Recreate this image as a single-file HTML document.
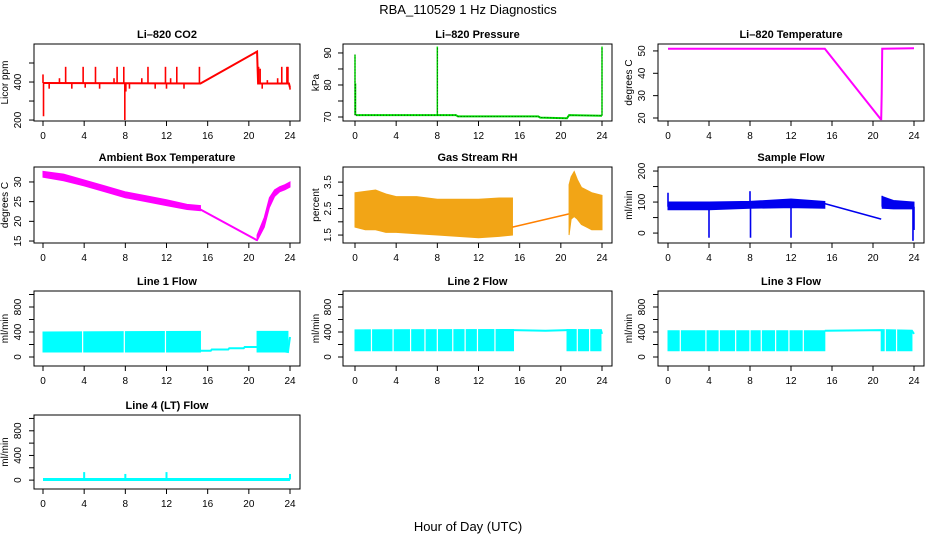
<!DOCTYPE html>
<html><head><meta charset="utf-8"><style>
html,body{margin:0;padding:0;background:#fff;}
svg{display:block;font-family:"Liberation Sans",Arial,sans-serif;}
</style></head><body>
<svg id="c" width="936" height="540" viewBox="0 0 936 540" xmlns="http://www.w3.org/2000/svg">
<defs>
<pattern id="rhpat" width="3" height="3" patternUnits="userSpaceOnUse">
<rect width="3" height="3" fill="#f8c000"/><rect width="1" height="1" fill="#f03010"/><rect x="1" y="1" width="1" height="1" fill="#f03010"/><rect x="2" y="2" width="1" height="1" fill="#f03010"/>
</pattern>
</defs>
<text x="468" y="14" text-anchor="middle" font-size="13">RBA_110529  1 Hz Diagnostics</text>
<text x="468" y="531" text-anchor="middle" font-size="13">Hour of Day (UTC)</text>
</svg>
<script>
// ---- data ----
const xTicks = [0,4,8,12,16,20,24];
const co2LineT = [0, 0.1, 15.3, 20.8, 20.9, 23.9, 24];
const co2LineV = [395, 395, 392, 560, 392, 392, 370];
const co2SpikeT = [0,0.05,1.6,2.2,3.9,5.1,6.9,7.2,7.85,7.95,8.05,9.6,10.2,11.9,12.4,13.0,15.2,20.95,21.1,21.8,22.8,23.2,23.7,23.8,0.6,2.8,4.1,5.5,8.4,10.9,12.0,13.7,21.3,24.0];
const co2SpikeV = [440,220,420,480,480,480,420,480,480,200,350,420,480,480,420,480,480,480,470,410,420,480,480,480,365,365,370,365,365,365,365,365,365,360];
const presT = [0.1, 9.8, 10.0, 17.8, 18.0, 20.6, 20.8, 24];
const presV = [70.6, 70.6, 70.2, 70.2, 69.8, 69.6, 70.6, 70.4];
const presSpikeT = [0, 0.05, 8, 24];
const presSpikeV = [89.5, 80.5, 92, 92];
const tempT = [0, 15.3, 20.75, 20.8, 20.85, 20.9, 24];
const tempV = [51, 51, 19.5, 19.5, 31, 51, 51.2];
const ambT = [0,2,4,6,8,10,12,14,15.3];
const ambLo = [31.2,30.3,29,27.5,26,25,24,23,22.7];
const ambHi = [32.7,32,30.5,29,27.5,26.5,25.5,24.3,24];
const ambLineT = [15.3, 20.8];
const ambLineV = [23, 15.2];
const amb2T = [20.8,21.5,22,22.5,23,23.5,24];
const amb2Lo = [15,18.5,23.5,26.3,27.5,28,28.7];
const amb2Hi = [16.5,21,26,28,28.8,29.3,30];
const rhT = [0,1,2,3,4,6,8,10,12,14,15.3];
const rhLo = [1.8,1.7,1.7,1.6,1.6,1.55,1.5,1.45,1.4,1.45,1.5];
const rhHi = [3.1,3.15,3.2,3.05,2.95,2.95,2.85,2.85,2.85,2.9,2.9];
const rhLineT = [15.3, 20.8];
const rhLineV = [1.8, 2.3];
const rh2T = [20.8,21.0,21.3,21.6,22,22.5,23,24];
const rh2Lo = [1.5,2.1,2.2,2.1,1.9,1.8,1.7,1.7];
const rh2Hi = [3.4,3.7,3.9,3.6,3.3,3.2,3.1,3.0];
const sfT = [0,4,8,12,15.3];
const sfLo = [75,75,80,82,80];
const sfHi = [100,100,102,110,102];
const sfLineT = [15.3, 20.8];
const sfLineV = [95, 45];
const sf2T = [20.9, 22, 24];
const sf2Lo = [80, 78, 78];
const sf2Hi = [118, 105, 100];
const sfSpikeT = [0,4,8,8.05,12,20.9,23.9,24.0];
const sfSpikeV = [130,-15,135,-15,-15,120,-25,10];
const l1T = [0, 15.3], l1Lo = [80, 80], l1Hi = [400, 410];
const l1Gaps = [3.85, 7.9, 11.9];
const l1LineT = [15.3,16.3,16.4,18,18.1,19.5,19.6,20.8,23.8,24];
const l1LineV = [100,100,120,120,140,140,160,160,80,320];
const l1bT = [20.8, 23.8], l1bLo = [80, 80], l1bHi = [410, 410];
const l2T = [0, 15.4], l2Lo = [100, 100], l2Hi = [435, 440];
const l2Gaps = [1.6,3.7,5.4,6.8,8.0,9.5,10.7,11.9,13.6];
const l2LineT = [15.4, 18.5, 20.6, 23.9, 24];
const l2LineV = [430, 420, 430, 430, 370];
const l2bT = [20.6, 23.9], l2bLo = [100, 100], l2bHi = [440, 430];
const l2bGaps = [21.6, 22.8];
const l3T = [0, 15.3], l3Lo = [100, 100], l3Hi = [420, 420];
const l3Gaps = [1.2,3.7,5,6.6,8,9.1,10.5,11.8,13.2];
const l3LineT = [15.3, 20.8, 23.8, 24];
const l3LineV = [420, 430, 420, 370];
const l3bT = [20.8, 23.8], l3bLo = [100, 100], l3bHi = [430, 420];
const l3bGaps = [21.2, 22.3];
const l4LineT = [0, 24];
const l4LineV = [10, 10];
const l4SpikeT = [4, 8, 12, 24];
const l4SpikeV = [130, 100, 130, 100];

// ---- layout ----
const svg = document.getElementById('c');
const NS = 'http://www.w3.org/2000/svg';
const cols = [{x0:34,x1:300,t0:43,t1:290,yl:8,tl:21},{x0:343,x1:612,t0:355,t1:602,yl:319,tl:331},{x0:658,x1:924,t0:668,t1:914,yl:632,tl:645}];
const rows = [{y0:44,y1:121},{y0:167,y1:243},{y0:291,y1:366},{y0:415,y1:489}];
function mk(tag, attrs, parent){const e=document.createElementNS(NS,tag);for(const k in attrs)e.setAttribute(k,attrs[k]);(parent||svg).appendChild(e);return e;}

function panel(ci, ri, name, title, ylab, ylim, yt, ylabs){
  const c=cols[ci], r=rows[ri];
  const g=mk('g',{});
  
  
  const sx=t=>c.t0+(t/24)*(c.t1-c.t0);
  const sy=v=>r.y1-(v-ylim[0])/(ylim[1]-ylim[0])*(r.y1-r.y0);
  const tt=mk('text',{x:(c.x0+c.x1)/2,y:r.y0-6,'text-anchor':'middle','font-size':11,'font-weight':'bold'},g);
  tt.textContent=title;
  
  
  const xa=mk('g',{},g);
  
  
  xTicks.forEach(t=>{
    mk('line',{x1:sx(t),x2:sx(t),y1:r.y1,y2:r.y1+5,stroke:'#000'},xa);
    const l=mk('text',{x:sx(t),y:r.y1+18,'text-anchor':'middle','font-size':10},xa);l.textContent=t;
  });
  const ya=mk('g',{},g);
  
  
  yt.forEach(v=>{
    mk('line',{x1:c.x0-5,x2:c.x0,y1:sy(v),y2:sy(v),stroke:'#000'},ya);
  });
  ylabs.forEach(v=>{
    const l=mk('text',{x:c.tl,y:sy(v),'text-anchor':'middle','font-size':10,transform:`rotate(-90 ${c.tl} ${sy(v)})`},ya);l.textContent=v;
  });
  const yl=mk('text',{x:c.yl,y:(r.y0+r.y1)/2,'text-anchor':'middle','font-size':10,transform:`rotate(-90 ${c.yl} ${(r.y0+r.y1)/2})`},g);
  yl.textContent=ylab;
  
  
  const clipId='clip'+ci+ri;
  const cp=mk('clipPath',{id:clipId},g);mk('rect',{x:c.x0,y:r.y0,width:c.x1-c.x0,height:r.y1-r.y0},cp);
  const plot=mk('g',{'clip-path':`url(#${clipId})`},g);
  
  
  const box=mk('rect',{x:c.x0,y:r.y0,width:c.x1-c.x0,height:r.y1-r.y0,fill:'none',stroke:'#000','stroke-width':1},g);
  
  
  return {sx,sy,plot,g};
}
function line(p,T,V,color,w,extra){
  const e=mk('polyline',Object.assign({points:T.map((t,i)=>p.sx(t)+','+p.sy(V[i])).join(' '),fill:'none',stroke:color,'stroke-width':w||1.5},extra||{}),p.plot);
  
  
  return e;
}
function interp(T,V,t){for(let i=0;i<T.length-1;i++){if(t>=T[i]&&t<=T[i+1]){return V[i]+(V[i+1]-V[i])*(t-T[i])/((T[i+1]-T[i])||1);}}return t<T[0]?V[0]:V[V.length-1];}
function spikes(p,T,V,baseT,baseV,color,w){
  T.forEach((t,i)=>{
    const e=mk('line',{x1:p.sx(t),x2:p.sx(t),y1:p.sy(interp(baseT,baseV,t)),y2:p.sy(V[i]),stroke:color,'stroke-width':w||1.5},p.plot);
    
    
  });
}
function band(p,T,lo,hi,fill){
  const pts=T.map((t,i)=>p.sx(t)+','+p.sy(hi[i])).concat(T.slice().reverse().map((t,j)=>{const i=T.length-1-j;return p.sx(t)+','+p.sy(lo[i]);}));
  const e=mk('polygon',{points:pts.join(' '),fill:fill,stroke:fill.startsWith('url')?'none':fill,'stroke-width':1},p.plot);
  
  
}
function gaps(p,G,T,lo,hi){
  G.forEach(t=>{
    const e=mk('line',{x1:p.sx(t),x2:p.sx(t),y1:p.sy(interp(T,hi,t))-1,y2:p.sy(interp(T,lo,t))+1,stroke:'#fff','stroke-width':1.2},p.plot);
    
    
  });
}

// CO2
let p=panel(0,0,'co2','Li\u2013820 CO2','Licor ppm',[195,600],[200,300,400,500],[200,400]);
line(p,co2LineT,co2LineV,'#ff0000',2);
spikes(p,co2SpikeT,co2SpikeV,co2LineT,co2LineV,'#ff0000',1.6);
// Pressure
p=panel(1,0,'pressure','Li\u2013820 Pressure','kPa',[68.75,92.8],[70,75,80,85,90],[70,80,90]);
line(p,presT,presV,'#00dd00',2);
line(p,presT,presV,'#000',0.6,{'stroke-dasharray':'1 2'});
spikes(p,presSpikeT,presSpikeV,presT,presV,'#00dd00',1.5);
presSpikeT.forEach((t,i)=>{const e=mk('line',{x1:p.sx(t),x2:p.sx(t),y1:p.sy(70.5),y2:p.sy(presSpikeV[i]),stroke:'#000','stroke-width':0.6,'stroke-dasharray':'1 2'},p.plot);});
// Temperature
p=panel(2,0,'li820-temperature','Li\u2013820 Temperature','degrees C',[18.66,53.1],[20,30,40,50],[20,30,40,50]);
line(p,tempT,tempV,'#ff00ff',2);
// Ambient
p=panel(0,1,'ambient-temperature','Ambient Box Temperature','degrees C',[14.5,33.8],[15,20,25,30],[15,20,25,30]);
band(p,ambT,ambLo,ambHi,'#ff00ff');
line(p,ambLineT,ambLineV,'#ff00ff',2);
band(p,amb2T,amb2Lo,amb2Hi,'#ff00ff');
// RH
p=panel(1,1,'gas-stream-rh','Gas Stream RH','percent',[1.2,4.07],[1.5,2,2.5,3,3.5],[1.5,2.5,3.5]);
band(p,rhT,rhLo,rhHi,'#f2a516');
line(p,rhLineT,rhLineV,'#ff8000',1.5);
band(p,rh2T,rh2Lo,rh2Hi,'#f2a516');
// Sample flow
p=panel(2,1,'sample-flow','Sample Flow','ml/min',[-32,213],[0,50,100,150,200],[0,100,200]);
band(p,sfT,sfLo,sfHi,'#0000ee');
line(p,sfLineT,sfLineV,'#0000ee',1.5);
band(p,sf2T,sf2Lo,sf2Hi,'#0000ee');
spikes(p,sfSpikeT,sfSpikeV,[0,24],[85,85],'#0000ee',1.6);
// Line flows
const fl=[-144,1056], ft=[0,200,400,600,800,1000], fl2=[0,400,800];
p=panel(0,2,'line1-flow','Line 1 Flow','ml/min',fl,ft,fl2);
line(p,l1LineT,l1LineV,'#00ffff',2);
band(p,l1T,l1Lo,l1Hi,'#00ffff');gaps(p,l1Gaps,l1T,l1Lo,l1Hi);
band(p,l1bT,l1bLo,l1bHi,'#00ffff');
p=panel(1,2,'line2-flow','Line 2 Flow','ml/min',fl,ft,fl2);
line(p,l2LineT,l2LineV,'#00ffff',2);
band(p,l2T,l2Lo,l2Hi,'#00ffff');gaps(p,l2Gaps,l2T,l2Lo,l2Hi);
band(p,l2bT,l2bLo,l2bHi,'#00ffff');gaps(p,l2bGaps,l2bT,l2bLo,l2bHi);
p=panel(2,2,'line3-flow','Line 3 Flow','ml/min',fl,ft,fl2);
line(p,l3LineT,l3LineV,'#00ffff',2);
band(p,l3T,l3Lo,l3Hi,'#00ffff');gaps(p,l3Gaps,l3T,l3Lo,l3Hi);
band(p,l3bT,l3bLo,l3bHi,'#00ffff');gaps(p,l3bGaps,l3bT,l3bLo,l3bHi);
p=panel(0,3,'line4-flow','Line 4 (LT) Flow','ml/min',fl,ft,fl2);
line(p,l4LineT,l4LineV,'#00ffff',3);
spikes(p,l4SpikeT,l4SpikeV,l4LineT,l4LineV,'#00ffff',2);
</script>
</body></html>
